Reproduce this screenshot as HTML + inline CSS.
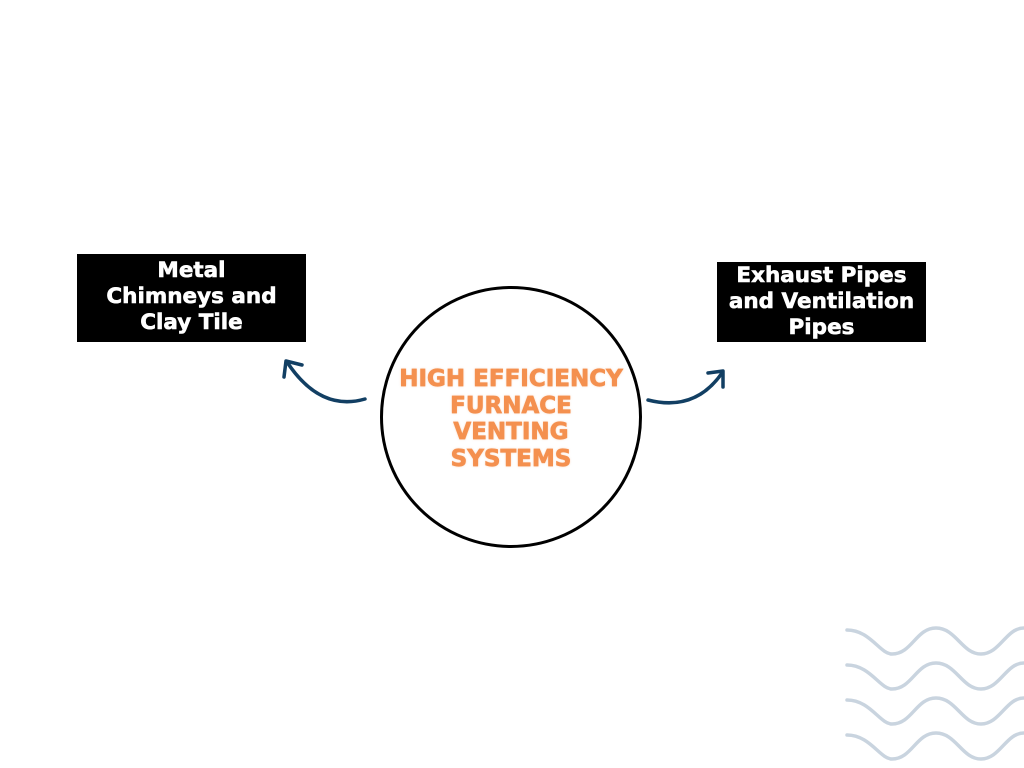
<!DOCTYPE html>
<html><head><meta charset="utf-8"><style>
body{margin:0;width:1024px;height:768px;background:#fff;position:relative;overflow:hidden;font-family:"DejaVu Sans","Liberation Sans",sans-serif;}
.box{position:absolute;background:#000;color:#fff;font-weight:bold;text-align:center;font-size:21.5px;line-height:26px;-webkit-text-stroke:0.6px #fff;}
.c{position:absolute;left:380px;top:286px;width:256px;height:256px;border:3px solid #000;border-radius:50%;}
.t{position:absolute;left:370px;top:366px;width:282px;text-align:center;color:#F4904F;font-weight:bold;font-size:23px;line-height:26.5px;-webkit-text-stroke:0.7px #F4904F;text-shadow:0 0 2px rgba(244,144,79,.5);}
</style></head><body>
<div class="box" style="left:77px;top:254px;width:229px;height:88px;padding-top:4px;box-sizing:border-box;">Metal<br>Chimneys and<br>Clay Tile</div>
<div class="box" style="left:717px;top:262px;width:209px;height:80px;padding-top:1px;box-sizing:border-box;">Exhaust Pipes<br>and Ventilation<br>Pipes</div>
<div class="c"></div>
<div class="t">HIGH EFFICIENCY<br>FURNACE<br>VENTING<br>SYSTEMS</div>
<svg width="1024" height="768" style="position:absolute;left:0;top:0" fill="none">
<g stroke="#123F63" stroke-width="3.5" stroke-linecap="round" stroke-linejoin="round">
<path d="M365 399 Q320 412 287 362"/>
<path d="M284 377 L286 361 L302 365"/>
<path d="M648 400 Q695 412 722 373"/>
<path d="M708 373 L723 371 L723 387"/>
</g>
<g stroke="#C9D4DF" stroke-width="3.5" stroke-linecap="round">
<path id="w" d="M847 630 C870 630 880 654 892 654 C912 654 916 628 936 628 C956 628 962 654 981 654 C1000 654 1006 628 1024 628"/>
<use href="#w" y="35"/><use href="#w" y="70"/><use href="#w" y="105"/>
</g>
</svg>
</body></html>
